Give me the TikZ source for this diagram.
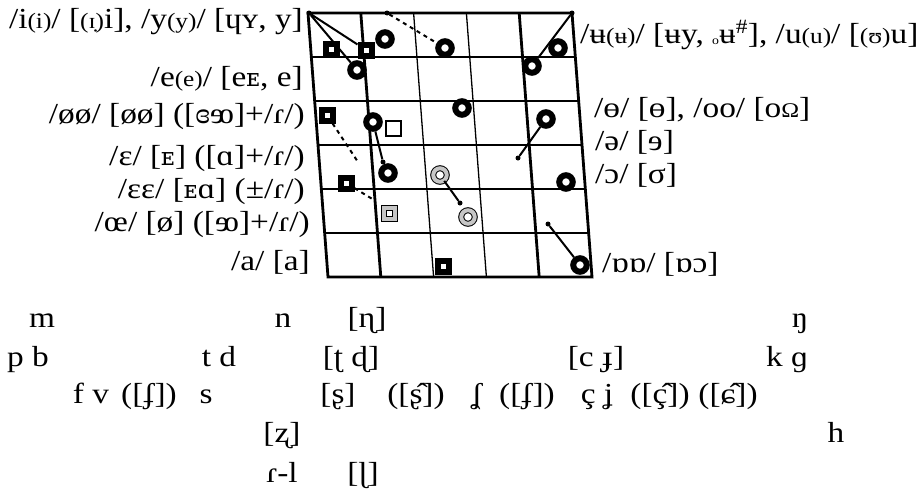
\documentclass[tikz,border=0pt]{standalone}
\usepackage{fontspec}
\setmainfont{Liberation Serif}[FakeStretch=1.15]
\newfontfamily\djvfont{DejaVu Serif}
\usetikzlibrary{calc}
\newcommand\sm[1]{{\fontsize{22}{22}\selectfont #1}}
\newcommand\djc[1]{{\djvfont\fontsize{25}{25}\selectfont #1}}
\newcommand\ring{\raisebox{-1pt}{\fontsize{12}{12}\selectfont o}}
\begin{document}
\begin{tikzpicture}[x=1pt,y=-1pt,
  font=\fontsize{29}{34}\selectfont,
  every node/.style={inner sep=0pt},
  vcirc/.style={circle, draw=black, fill=white, line width=6pt, minimum size=13.5pt},
  vsq/.style={rectangle, draw=black, fill=white, line width=6pt, minimum size=11pt},
  osq/.style={rectangle, draw=black, fill=white, line width=2pt, minimum size=15pt},
  gcirc/.style={circle, draw=black, double=gray!45, double distance=4pt, line width=1pt, fill=white, minimum size=13.5pt},
  gsq/.style={rectangle, draw=black, double=gray!45, double distance=4pt, line width=1pt, fill=white, minimum size=11pt},
  dotm/.style={circle, fill=black, minimum size=5pt},
  conn/.style={line width=2pt},
  dconn/.style={line width=2pt, dash pattern=on 4pt off 4pt},
  gthick/.style={line width=2.8pt},
  gthin/.style={line width=1.3pt}]
\fill[white] (0,0) rectangle (921,490);
\useasboundingbox (0,0) rectangle (921,490);
% chart frame
\coordinate (TL) at (308,13);
\coordinate (TR) at (572,13);
\coordinate (BL) at (328,277);
\coordinate (BR) at (592,277);
\foreach \k/\w in {1/gthin,2/gthick,3/gthin,4/gthick,5/gthin}
  \draw[\w] ($(TL)!\k/6!(BL)$) -- ($(TR)!\k/6!(BR)$);
\foreach \k/\w in {1/gthick,2/gthin,3/gthin,4/gthick}
  \draw[\w] ($(TL)!\k/5!(TR)$) -- ($(BL)!\k/5!(BR)$);
\draw[gthick, line join=miter] (TL) -- (TR) -- (BR) -- (BL) -- cycle;
% markers
\node[vsq] (s1) at (331,49) {};
\node[vsq] (s2) at (366,50) {};
\node[vsq] (s3) at (327,115) {};
\node[vsq] (s4) at (346,183) {};
\node[vsq] (s5) at (443,266) {};
\node[osq] (s6) at (393,128) {};
\node[gsq] (s7) at (389,213) {};
\node[vcirc] (c1) at (385,39) {};
\node[vcirc] (c2) at (357,70) {};
\node[vcirc] (c3) at (445,48) {};
\node[vcirc] (c4) at (373,122) {};
\node[vcirc] (c5) at (388,173) {};
\node[vcirc] (c6) at (462,108) {};
\node[vcirc] (c7) at (532,66) {};
\node[vcirc] (c8) at (558,48) {};
\node[vcirc] (c9) at (546,119) {};
\node[vcirc] (c10) at (566,182) {};
\node[vcirc] (c11) at (580,265) {};
\node[gcirc] (g1) at (440,175) {};
\node[gcirc] (g2) at (468,217) {};
\node[dotm] (d0) at (309,13) {};
\node[dotm] (d1) at (387,13) {};
\node[dotm] (d2) at (572,13) {};
\node[dotm] (d3) at (383,162) {};
\node[dotm] (d4) at (518,158) {};
\node[dotm] (d5) at (460,203) {};
\node[dotm] (d6) at (548,224) {};
\coordinate (e1) at (358,162);
\coordinate (e2) at (374,200);
% connectors
\draw[conn] (d0) -- (s2);
\draw[conn] (d0) -- (c2);
\draw[conn] (c4) -- (d3);
\draw[conn] (d2) -- (c7);
\draw[conn] (c9) -- (d4);
\draw[conn] (g1) -- (d5);
\draw[conn] (d6) -- (c11);
\draw[dconn] (s3) -- (e1);
\draw[dconn] (s4) -- (e2);
\draw[dconn] (d1) -- (c3);
% left labels
\node[anchor=base east] (li) at (303,28) {/i\sm{(i)}/ [\sm{(ɪ̣)}i], /y\sm{(y)}/ [ɥʏ, y]};
\node[anchor=base east] (le) at (303,86) {/e\sm{(e)}/ [e\djc{ᴇ}, e]};
\node[anchor=base east] (lo) at (305,123) {/øø/ [øø] ([ɞ\reflectbox{œ}]+/ɾ/)};
\node[anchor=base east] (lp) at (305,165) {/ɛ/ [\djc{ᴇ}] ([ɑ]+/ɾ/)};
\node[anchor=base east] (lq) at (305,198) {/ɛɛ/ [\djc{ᴇ}ɑ] (±/ɾ/)};
\node[anchor=base east] (lr) at (310,231) {/œ/ [ø] ([\reflectbox{œ}]+/ɾ/)};
\node[anchor=base east] (la) at (310,270) {/a/ [a]};
% right labels
\node[anchor=base west] (ru) at (580,43) {/ʉ\sm{(ʉ)}/ [ʉy, \ring ʉ\textsuperscript{\#}], /u\sm{(u)}/ [\sm{(ʊ)}u]};
\node[anchor=base west] (ro) at (594,117) {/ɵ/ [ɵ], /oo/ [o\scalebox{0.72}{Ω}]};
\node[anchor=base west] (rs) at (595,150) {/ə/ [ɘ]};
\node[anchor=base west] (rc) at (595,183) {/ɔ/ [σ]};
\node[anchor=base west] (rb) at (602,272) {/ɒɒ/ [ɒɔ]};
% consonants
\node[anchor=base] (k1) at (42,327) {m};
\node[anchor=base] (k2) at (283,327) {n};
\node[anchor=base] (k3) at (367,327) {[ɳ]};
\node[anchor=base] (k4) at (800,327) {ŋ};
\node[anchor=base] (k5) at (28,366) {p b};
\node[anchor=base] (k6) at (219,366) {t d};
\node[anchor=base] (k7) at (351,366) {[ʈ ɖ]};
\node[anchor=base] (k8) at (596,366) {[c ɟ]};
\node[anchor=base] (k9) at (787,366) {k ɡ};
\node[anchor=base] (k10) at (91,403) {f v};
\node[anchor=base] (k11) at (149,403) {([ʄ])};
\node[anchor=base] (k12) at (206,403) {s};
\node[anchor=base] (k13) at (338,403) {[ʂ]};
\node[anchor=base] (k14) at (416,403) {([ʂ̂])};
\node[anchor=base] (k15) at (477,403) {ʆ};
\node[anchor=base] (k16) at (527,403) {([ʄ])};
\node[anchor=base] (k17) at (597,403) {ç ʝ};
\node[anchor=base] (k18) at (660,403) {([ç̂])};
\node[anchor=base] (k19) at (728,403) {([ɕ̂])};
\node[anchor=base] (k20) at (282,442) {[ʐ]};
\node[anchor=base] (k21) at (836,442) {h};
\node[anchor=base] (k22) at (282,482) {ɾ-l};
\node[anchor=base] (k23) at (363,482) {[ɭ]};
\end{tikzpicture}
\end{document}
